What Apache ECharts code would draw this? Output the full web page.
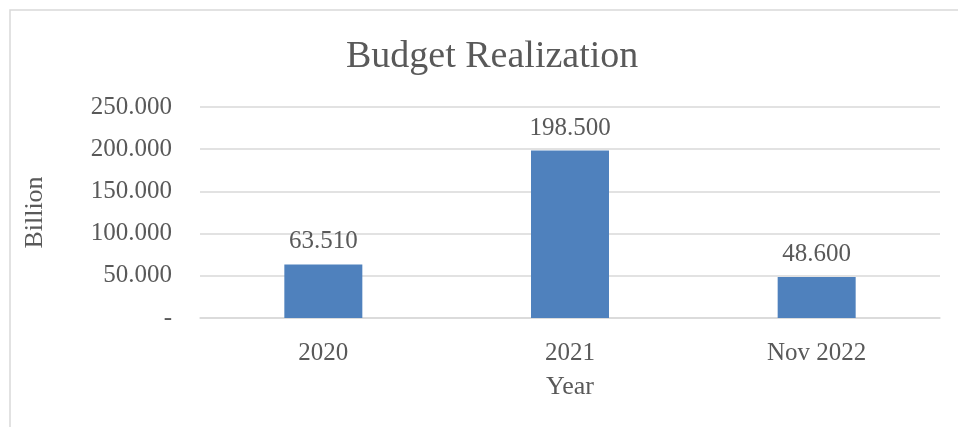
<!DOCTYPE html>
<html>
<head>
<meta charset="utf-8">
<script src="https://cdn.jsdelivr.net/npm/echarts@6/dist/echarts.min.js"></script>
<style>
  html, body { margin: 0; padding: 0; background: #fff; }
  #chart { width: 958px; height: 427px; }
</style>
</head>
<body>
<div id="chart"></div>
<script>
const categories = ['2020', '2021', 'Nov 2022']
const realization = [63.51, 198.5, 48.6]

const FONT = '"Liberation Serif", "DejaVu Serif", serif'
const TEXT = '#595959'

const chart = echarts.init(document.getElementById('chart'), null, { renderer: 'canvas' })

const option = {
  animation: false,
  textStyle: { fontFamily: FONT, color: TEXT },
  title: {
    text: 'Budget Realization',
    left: 341,
    top: 33,
    textStyle: { fontFamily: FONT, fontSize: 38, fontWeight: 'normal', color: TEXT },
  },
  // outer chart border, runs off the right and bottom edges like the source
  graphic: [{
    type: 'rect',
    shape: { x: 10, y: 10, width: 1000, height: 500 },
    style: { fill: 'none', stroke: '#d9d9d9', lineWidth: 1.5 },
    silent: true,
  }],
  grid: { left: 200, right: 18, top: 107, bottom: 109 },
  xAxis: {
    type: 'category',
    data: categories,
    name: 'Year',
    nameLocation: 'middle',
    nameGap: 56,
    nameTextStyle: { fontFamily: FONT, fontSize: 26, color: TEXT },
    axisTick: { show: false },
    axisLine: { lineStyle: { color: '#d9d9d9', width: 1.5 } },
    axisLabel: { fontFamily: FONT, fontSize: 25, color: TEXT, margin: 23 },
  },
  yAxis: {
    type: 'value',
    min: 0,
    max: 250,
    interval: 50,
    name: 'Billion',
    nameLocation: 'middle',
    nameGap: 152,
    nameTextStyle: { fontFamily: FONT, fontSize: 26, color: TEXT },
    axisLine: { show: false },
    axisTick: { show: false },
    axisLabel: {
      fontFamily: FONT, fontSize: 25, color: TEXT, margin: 28,
      formatter: v => v === 0 ? '-' : v.toFixed(3),
    },
    splitLine: { lineStyle: { color: '#d9d9d9', width: 1.5 } },
  },
  series: [{
    type: 'bar',
    data: realization,
    barWidth: 78,
    itemStyle: { color: '#4f81bd' },
    label: {
      show: true,
      position: 'top',
      distance: 10,
      fontFamily: FONT,
      fontSize: 25,
      color: TEXT,
      formatter: p => p.value.toFixed(3),
    },
  }],
}

chart.setOption(option)
</script>
</body>
</html>
